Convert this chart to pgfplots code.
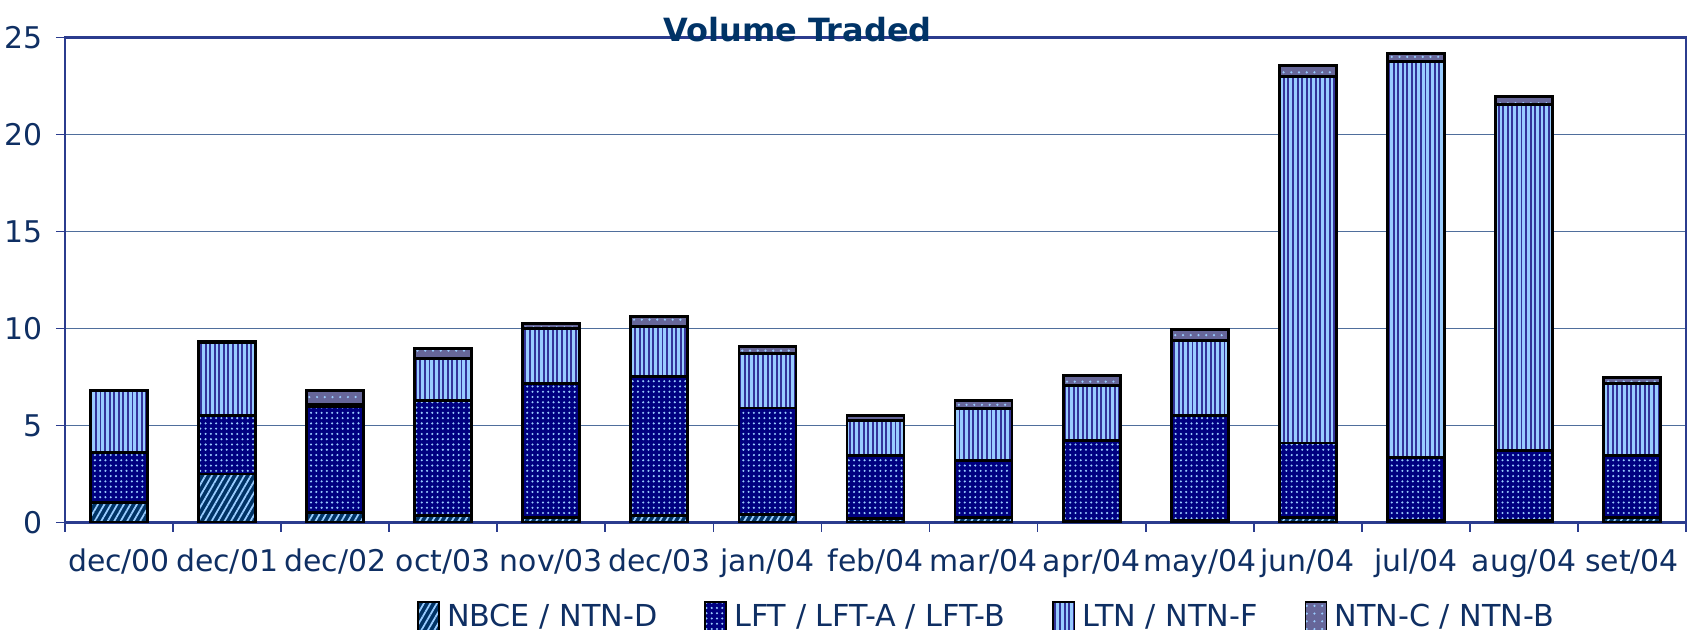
\documentclass[border=0pt]{standalone}
\usepackage{pgfplots}
\pgfplotsset{compat=1.18}
\usepackage{pgfplotstable}
\usepackage{fontspec}
\setmainfont{DejaVu Sans}
\usetikzlibrary{patterns,patterns.meta}
\definecolor{txtnavy}{HTML}{0F2F63}
\definecolor{titlenavy}{HTML}{003366}
\definecolor{axiscol}{HTML}{2B3C8E}
\definecolor{gridcol}{HTML}{4F6E9C}
\definecolor{lb}{HTML}{99CCFF}
\definecolor{cNBCE}{HTML}{003366}
\definecolor{cLFT}{HTML}{000080}
\definecolor{cLTN}{HTML}{333399}
\definecolor{cNTNC}{HTML}{666699}

\pgfplotstableread{
x nbce lft ltn ntnc
0  1.03 2.58 3.20 0.00
1  2.50 3.00 3.75 0.10
2  0.50 5.48 0.12 0.71
3  0.38 5.89 2.19 0.51
4  0.26 6.89 2.83 0.29
5  0.38 7.15 2.57 0.53
6  0.41 5.49 2.82 0.37
7  0.21 3.24 1.80 0.26
8  0.24 2.97 2.67 0.42
9  0.06 4.15 2.85 0.51
10 0.10 5.42 3.88 0.53
11 0.24 3.86 18.89 0.57
12 0.10 3.23 20.43 0.43
13 0.10 3.63 17.83 0.42
14 0.24 3.23 3.71 0.31
}\data

\begin{document}
\begin{tikzpicture}
\useasboundingbox (-6.5mm,-10.65mm) rectangle (162.4mm,52.25mm);
\begin{axis}[
  name=ax,
  at={(0,0)}, anchor=south west,
  scale only axis,
  width=162.1mm, height=48.5mm,
  ybar stacked,
  bar width=5.7mm,
  xmin=-0.5, xmax=14.5,
  ymin=0, ymax=25,
  ytick={0,5,...,25},
  xtick={-0.5,0.5,...,14.5},
  xticklabels={},
  extra x ticks={0,1,...,14},
  extra x tick labels={dec/00,dec/01,dec/02,oct/03,nov/03,dec/03,jan/04,feb/04,mar/04,apr/04,may/04,jun/04,jul/04,aug/04,set/04},
  extra x tick style={major tick length=0pt, grid=none},
  xtick pos=lower, ytick pos=left,
  tick align=outside,
  major tick length=0.9mm,
  tick style={color=axiscol, line width=0.5pt},
  ymajorgrids,
  grid style={color=gridcol, line width=0.5pt},
  axis line style={color=axiscol, line width=0.6pt},
  ticklabel style={font=\fontsize{8.5}{10}\selectfont, color=txtnavy},
  /pgf/number format/assume math mode=true,
  yticklabel style={inner sep=0pt, xshift=-1.3mm},
  xticklabel style={yshift=-1.4mm},
  title={Volume Traded},
  every axis title shift=0pt,
  title style={at={(0.452,1)}, anchor=base, yshift=-0.4mm, inner sep=0pt, font=\bfseries\fontsize{9.1}{10}\selectfont, color=titlenavy},
  legend columns=4,
  legend style={draw=none, fill=none, inner sep=0pt, at={(0.57,-0.197)}, anchor=center,
    font=\fontsize{8.6}{10}\selectfont, text=txtnavy,
    /tikz/every even column/.append style={column sep=4.0mm}},
  legend image code/.code={\draw[#1, line width=0.5pt] (0pt,-0.65ex) rectangle (1.1ex,0.85ex);},
  every axis plot/.append style={draw=black, line width=0.8pt},
]
\addplot[fill=cNBCE, postaction={pattern={Lines[angle=60,distance=1.6pt,line width=0.5pt]}, pattern color=lb}] table[x=x,y=nbce]{\data};
\addplot[fill=cLFT, postaction={pattern={Dots[distance=1.5pt,radius=0.33pt]}, pattern color=lb}] table[x=x,y=lft]{\data};
\addplot[fill=lb, postaction={pattern={Lines[angle=90,distance=1.3pt,line width=0.55pt]}, pattern color=cLTN}] table[x=x,y=ltn]{\data};
\addplot[fill=cNTNC, postaction={pattern={Dots[distance=2.2pt,radius=0.35pt]}, pattern color=lb}] table[x=x,y=ntnc]{\data};
\legend{NBCE / NTN-D, LFT / LFT-A / LFT-B, LTN / NTN-F, NTN-C / NTN-B}
\end{axis}
\end{tikzpicture}
\end{document}
